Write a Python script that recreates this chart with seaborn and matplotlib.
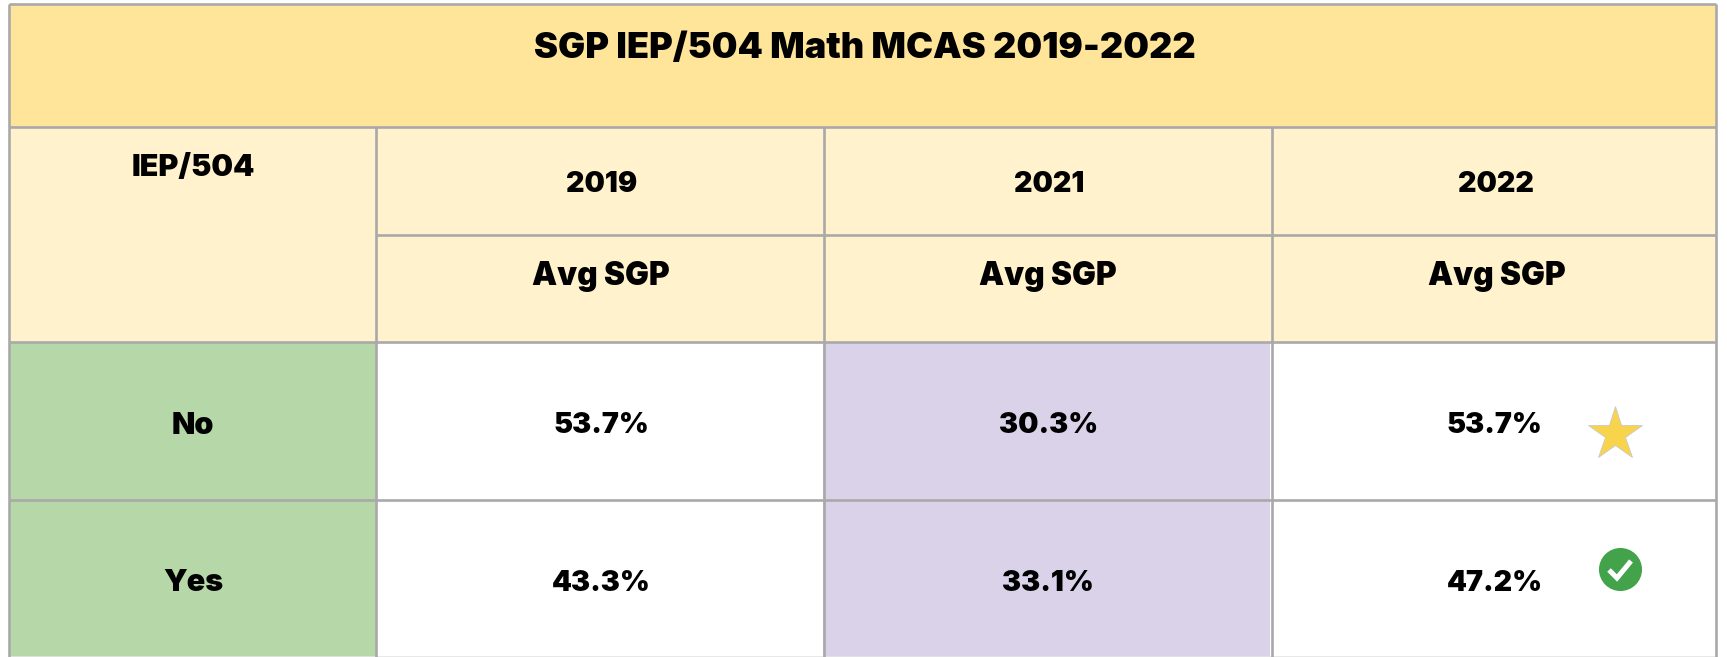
import numpy as np
import matplotlib.pyplot as plt
from matplotlib.colors import BoundaryNorm, ListedColormap
from matplotlib.patches import Rectangle
import seaborn as sns

W, H = 1727, 657

title = 'SGP IEP/504 Math MCAS 2019-2022'
row_header = 'IEP/504'
years = ['2019', '2021', '2022']
sub_header = 'Avg SGP'
groups = ['No', 'Yes']
sgp_2019 = [53.7, 43.3]
sgp_2021 = [30.3, 33.1]
sgp_2022 = [53.7, 47.2]

GRID = '#a9a9a9'
TITLE_BG = '#ffe599'
HEADER_BG = '#fff2cc'
GROUP_BG = '#b6d7a8'
LOW_BG = '#d9d2e9'

sns.set_theme(style='white')
plt.rcParams['font.family'] = ['Inter', 'DejaVu Sans']

X0, X1, X2, X3, X4 = 9, 376.5, 824.5, 1272, 1716
Y0, Y1, Y2, Y3, Y4, Y5 = 3.5, 126.5, 234.5, 341.5, 499.5, 657
FS = 22
WEIGHT = 'black'


def px_axes(fig, left, top, right, bottom, **kw):
    return fig.add_axes([left / W, 1 - bottom / H, (right - left) / W, (bottom - top) / H], **kw)


fig = plt.figure(figsize=(W / 100, H / 100), dpi=100, facecolor='white')

# header and group cells, pixel coordinates
base = px_axes(fig, 0, 0, W, H)
base.set_xlim(0, W)
base.set_ylim(H, 0)
base.axis('off')
base.add_patch(Rectangle((X0, Y0), X4 - X0, Y1 - Y0, color=TITLE_BG, lw=0))
base.add_patch(Rectangle((X0, Y1), X4 - X0, Y3 - Y1, color=HEADER_BG, lw=0))
base.add_patch(Rectangle((X0, Y3), X1 - X0, Y5 - Y3, color=GROUP_BG, lw=0))
base.set_zorder(-2)

# body: cells below 40 get the purple conditional fill
values = np.array([sgp_2019, sgp_2021, sgp_2022]).T
labels = [[f'{v:.1f}%' for v in row] for row in values]
cell_cmap = ListedColormap([LOW_BG, 'white'])
cell_norm = BoundaryNorm([0, 40, 100], 2)

fill = px_axes(fig, X1, Y3, X4, Y5)
sns.heatmap(values, ax=fill, cbar=False, cmap=cell_cmap, norm=cell_norm)
fill.axis('off')
fill.set_zorder(-1)

# labels sit a little off the cell centres, so they get their own axes
body = px_axes(fig, X1 + 2, Y3 + 5, X4 + 2, Y5 + 5)
sns.heatmap(values, ax=body, cbar=False, annot=labels, fmt='', cmap=cell_cmap, norm=cell_norm,
            annot_kws={'fontsize': 20.6, 'fontweight': WEIGHT, 'color': 'black'})
body.collections[0].set_alpha(0)
body.axis('off')

# grid, text and icons on top
top = px_axes(fig, 0, 0, W, H)
top.set_xlim(0, W)
top.set_ylim(H, 0)
top.axis('off')
top.patch.set_alpha(0)

line = {'colors': GRID, 'linewidth': 1.9}
top.hlines([Y0, Y1, Y3, Y4], X0, X4, **line)
top.hlines(Y2, X1, X4, **line)
top.hlines(Y5 - 0.5, X0, X4, colors='#e4e4e4', linewidth=1.2)
top.vlines([X0, X1, X2, X3, X4], [Y0, Y1, Y1, Y1, Y0], Y5, **line)

txt = {'ha': 'center', 'va': 'center', 'fontsize': FS, 'fontweight': WEIGHT, 'color': 'black'}
top.text(865, 48, title, **{**txt, 'fontsize': 26})
top.text(193, 168, row_header, **txt)
for x, year in zip([602, 1049, 1496], years):
    top.text(x, 185, year, **{**txt, 'fontsize': 20.6})
for x in [601, 1048, 1497]:
    top.text(x, 277, sub_header, **{**txt, 'fontsize': 22.8})
for y, group in zip([426, 583], groups):
    top.text(193, y, group, **txt)

top.plot(1615, 434, marker='*', ms=41, mfc='#f7d44c', mec='#c9c9c9', mew=0.6)
top.plot(1620, 569, marker='o', ms=31, mfc='#43a34a', mec='#43a34a', mew=0)
top.plot([1609, 1617, 1631], [570, 578, 561], color='white', lw=3.6, solid_capstyle='butt',
         solid_joinstyle='miter')

fig.savefig('out.png', dpi=100)
